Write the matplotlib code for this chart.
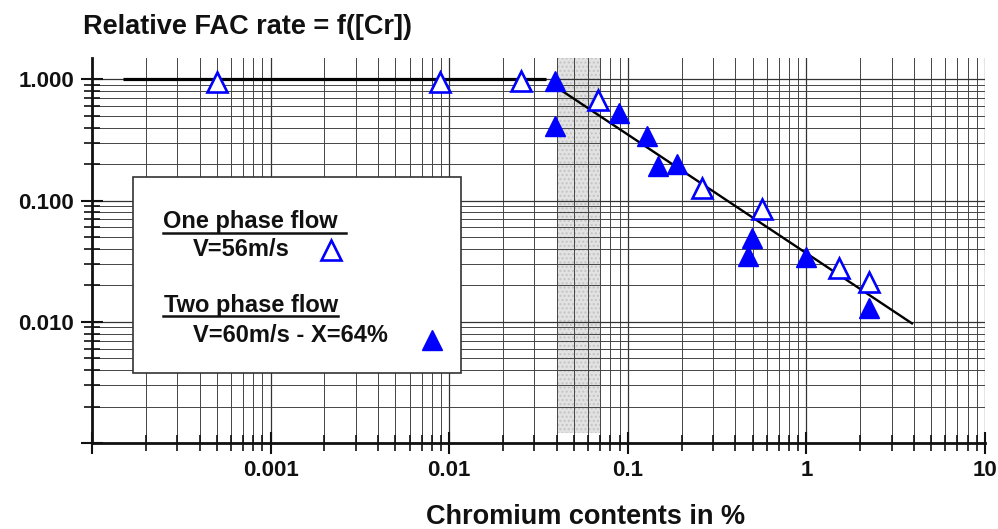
import matplotlib
matplotlib.use("Agg")
import matplotlib.pyplot as plt
from matplotlib.patches import Rectangle
from matplotlib.lines import Line2D

plt.rcParams['font.family'] = ['Liberation Sans', 'DejaVu Sans']
plt.rcParams['font.weight'] = 'bold'

# ---- data ----
open_x = [0.0005, 0.0089, 0.0253, 0.068, 0.259, 0.561, 1.53, 2.25]
open_y = [0.95, 0.95, 0.96, 0.67, 0.128, 0.086, 0.028, 0.0214]
filled_x = [0.039, 0.039, 0.089, 0.128, 0.147, 0.188, 0.499, 0.468, 1.0, 2.25]
filled_y = [0.96, 0.409, 0.524, 0.338, 0.191, 0.202, 0.049, 0.035, 0.0345, 0.0129]
plateau_x = [0.00015, 0.035]
plateau_y = [1.0, 1.0]
slope_x = [0.043, 3.9]
slope_y = [0.80, 0.0097]
band_x = [0.04, 0.07]
xticks = [0.0001, 0.001, 0.01, 0.1, 1, 10]
xticklabels = ['', '0.001', '0.01', '0.1', '1', '10']
yticks = [0.001, 0.01, 0.1, 1]
yticklabels = ['', '0.010', '0.100', '1.000']

W, H = 998, 529
fig = plt.figure(figsize=(W / 100, H / 100), dpi=100)
L, R, T, B = 92, 985, 58, 443
ax = fig.add_axes([L / W, 1 - B / H, (R - L) / W, (B - T) / H])
ax.set_xscale('log')
ax.set_yscale('log')
ax.set_xlim(1e-4, 10)
ax.set_ylim(1e-3, 1.5)

ax.set_axisbelow(True)
ax.grid(which='major', color='#333333', lw=0.9)
ax.grid(which='minor', color='#444444', lw=0.7)

ax.axvspan(band_x[0], band_x[1], ymin=0.026, ymax=1, facecolor='#e2e2e2',
           hatch='....', edgecolor='#c4c4c4', lw=0, zorder=0.2)

for s in ['top', 'right']:
    ax.spines[s].set_visible(False)
for s in ['bottom', 'left']:
    ax.spines[s].set_linewidth(2)
    ax.spines[s].set_color('#111111')

ax.set_xticks(xticks)
ax.set_xticklabels(xticklabels)
ax.set_yticks(yticks)
ax.set_yticklabels(yticklabels)
ax.tick_params(which='major', direction='inout', length=16, width=1.5,
               labelsize=16, colors='#111111')
ax.tick_params(which='minor', direction='inout', length=12, width=1.2,
               colors='#111111')
ax.tick_params(axis='y', which='major', pad=5)
ax.tick_params(axis='x', which='major', pad=4)
for lab in ax.get_xticklabels() + ax.get_yticklabels():
    lab.set_fontweight('bold')

ax.plot(plateau_x, plateau_y, color='black', lw=2.3, zorder=4, solid_capstyle='butt')
ax.plot(slope_x, slope_y, color='black', lw=1.7, zorder=4)

ms = 14
ax.plot(open_x, open_y, ls='none', marker='^', ms=ms, mfc='white',
        mec='#0000ff', mew=1.9, zorder=5)
ax.plot(filled_x, filled_y, ls='none', marker='^', ms=ms, mfc='#0000ff',
        mec='#0000ff', mew=1, zorder=5)

# legend box
def axc(px, py):
    return (px - L) / (R - L), (B - py) / (B - T)

x0, y0 = axc(133, 373)
x1, y1 = axc(461, 177)
ax.add_patch(Rectangle((x0, y0), x1 - x0, y1 - y0, transform=ax.transAxes,
                       facecolor='white', edgecolor='#333333', lw=1.2, zorder=3))

def ftxt(px, py, s, **kw):
    fig.text(px / W, 1 - py / H, s, **kw)

fs = 17
ftxt(163, 228, 'One phase flow', fontsize=fs, fontweight='bold', va='baseline', color='#111111')
ftxt(193, 256, 'V=56m/s', fontsize=fs, fontweight='bold', va='baseline', color='#111111')
ftxt(164, 312, 'Two phase flow', fontsize=fs, fontweight='bold', va='baseline', color='#111111')
ftxt(193, 342, 'V=60m/s - X=64%', fontsize=fs, fontweight='bold', va='baseline', color='#111111')

fig.add_artist(Line2D([163 / W, 346 / W], [1 - 233 / H, 1 - 233 / H], color='#111111', lw=1.8))
fig.add_artist(Line2D([163 / W, 338 / W], [1 - 316 / H, 1 - 316 / H], color='#111111', lw=1.8))

mx, my = axc(331, 250)
ax.plot([mx], [my], transform=ax.transAxes, marker='^', ms=ms, mfc='white',
        mec='#0000ff', mew=1.9, ls='none', clip_on=False, zorder=6)
mx, my = axc(432, 340)
ax.plot([mx], [my], transform=ax.transAxes, marker='^', ms=ms, mfc='#0000ff',
        mec='#0000ff', mew=1, ls='none', clip_on=False, zorder=6)

ftxt(83, 27, 'Relative FAC rate = f([Cr])', fontsize=19.5, fontweight='bold',
     va='center', ha='left', color='#111111')
ftxt(586, 517, 'Chromium contents in %', fontsize=19.5, fontweight='bold',
     va='center', ha='center', color='#111111')

fig.savefig('out.png', dpi=100)
